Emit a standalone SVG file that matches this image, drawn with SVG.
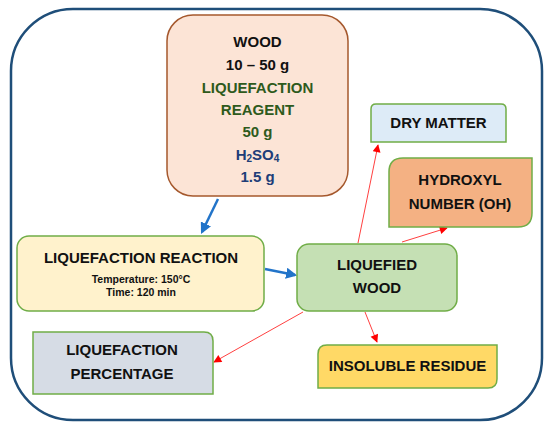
<svg xmlns="http://www.w3.org/2000/svg" width="550" height="429" viewBox="0 0 550 429">
<defs>
<style>
text{font-family:"Liberation Sans",Arial,sans-serif;font-weight:bold;text-anchor:middle;fill:#111}
.t{font-size:15px}
.s{font-size:10.5px}
.g{fill:#2e5a1c}
.b{fill:#203d78}
.box{stroke:#70ad47;stroke-width:1.5}
.blue{stroke:#2274c9;stroke-width:2.5;fill:none}
.red{stroke:#ff4040;stroke-width:1;fill:none}
</style>
<marker id="ab" viewBox="0 0 10 10" refX="8" refY="5" markerWidth="4.5" markerHeight="4.5" orient="auto" markerUnits="strokeWidth"><path d="M0,0 L10,5 L0,10 z" fill="#2274c9"/></marker>
<marker id="ar" viewBox="0 0 10 10" refX="9" refY="5" markerWidth="9" markerHeight="8" orient="auto" markerUnits="strokeWidth"><path d="M0,0 L10,5 L0,10 z" fill="#ff0000"/></marker>
</defs>
<rect x="11" y="9" width="531" height="411" rx="62" ry="62" fill="#fff" stroke="#1f4e79" stroke-width="2.5"/>
<g id="connectors">
<line class="blue" x1="218" y1="199" x2="202" y2="232" marker-end="url(#ab)"/>
<line class="blue" x1="265" y1="269" x2="295" y2="275" marker-end="url(#ab)"/>
<line class="red" x1="358" y1="243" x2="378" y2="145" marker-end="url(#ar)"/>
<line class="red" x1="402" y1="242" x2="447" y2="228" marker-end="url(#ar)"/>
<line class="red" x1="303" y1="312" x2="214" y2="362" marker-end="url(#ar)"/>
<line class="red" x1="365" y1="312" x2="377" y2="342" marker-end="url(#ar)"/>
</g>
<g id="wood">
<rect x="167" y="15" width="181" height="181" rx="26" fill="#fce4d6" stroke="#a5582d" stroke-width="1.5"/>
<text class="t" x="257.5" y="47">WOOD</text>
<text class="t" x="257.5" y="70">10 – 50 g</text>
<text class="t g" x="257.5" y="93">LIQUEFACTION</text>
<text class="t g" x="257.5" y="115">REAGENT</text>
<text class="t g" x="257.5" y="137">50 g</text>
<text class="t b" x="257.5" y="160">H<tspan font-size="10" dy="2">2</tspan><tspan dy="-2">SO</tspan><tspan font-size="10" dy="2">4</tspan></text>
<text class="t b" x="257.5" y="182">1.5 g</text>
</g>
<g id="reaction">
<rect class="box" x="17" y="236" width="247" height="75" rx="12" fill="#fff2cc"/>
<text class="t" x="141" y="263">LIQUEFACTION REACTION</text>
<text class="s" x="141" y="283">Temperature: 150°C</text>
<text class="s" x="141" y="296">Time: 120 min</text>
</g>
<g id="liquefied">
<rect class="box" x="297" y="244" width="160" height="67" rx="12" fill="#c5e0b4"/>
<text class="t" x="377" y="270">LIQUEFIED</text>
<text class="t" x="377" y="293">WOOD</text>
</g>
<g id="drymatter">
<path class="box" d="M371,142 V109 Q371,104 376,104 H501 Q506,104 506,109 V142 Z" fill="#ddebf7"/>
<text class="t" x="438.5" y="128">DRY MATTER</text>
</g>
<g id="hydroxyl">
<path class="box" d="M389,227 V172 Q389,158 403,158 H532 V213 Q532,227 518,227 Z" fill="#f4b183"/>
<text class="t" x="460" y="185">HYDROXYL</text>
<text class="t" x="460" y="209">NUMBER (OH)</text>
</g>
<g id="percentage">
<path class="box" d="M33,332 H204 Q213,332 213,341 V394 H33 Z" fill="#d6dce5"/>
<text class="t" x="122" y="355">LIQUEFACTION</text>
<text class="t" x="122" y="379">PERCENTAGE</text>
</g>
<g id="insoluble">
<path class="box" d="M318,388 V354 Q318,345 327,345 H497 V379 Q497,388 488,388 Z" fill="#ffd966"/>
<text class="t" x="407.5" y="371">INSOLUBLE RESIDUE</text>
</g>
</svg>
